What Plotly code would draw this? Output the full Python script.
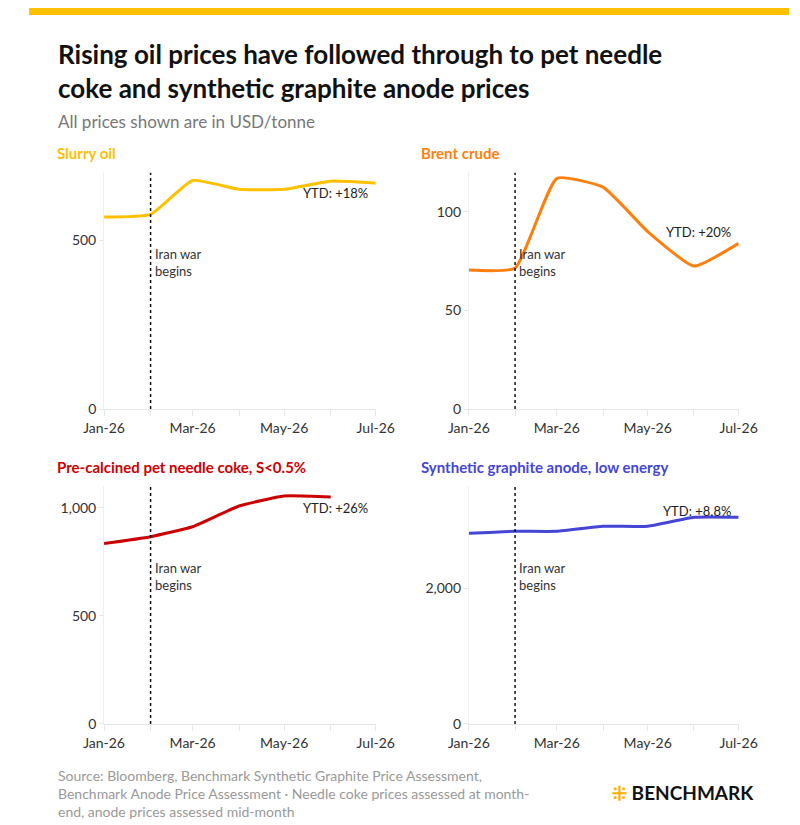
import plotly.graph_objects as go

months = ["2026-01-01","2026-02-01","2026-03-01","2026-04-01","2026-05-01","2026-06-01","2026-07-01"]
tick_labels = ["Jan-26","","Mar-26","","May-26","","Jul-26"]
slurry = [568, 576, 676, 650, 650, 674, 668]
brent = [70.5, 71.5, 117, 112.5, 90, 72.5, 84]
needle = [835, 867, 913, 1009, 1055, 1050]
anode = [2809, 2838, 2838, 2912, 2912, 3044, 3044]
war_date = "2026-02-01"

panels = [
    ("Slurry oil", "#FFC000", months, slurry, [0, 700], [0, 500], ["0", "500"], "YTD: +18%", 640),
    ("Brent crude", "#FF7F0E", months, brent, [0, 120], [0, 50, 100], ["0", "50", "100"], "YTD: +20%", 90),
    ("Pre-calcined pet needle coke, S<0.5%", "#CC0000", months[:6], needle, [0, 1100], [0, 500, 1000], ["0", "500", "1,000"], "YTD: +26%", 1000),
    ("Synthetic graphite anode, low energy", "#4545D6", months, anode, [0, 3500], [0, 2000], ["0", "2,000"], "YTD: +8.8%", 3140),
]
xd = [[79/800, 365/800], [463/800, 747/800]]
yd = [[1-405/825, 1-166/825], [1-723/825, 1-483/825]]

fig = go.Figure()
font = "Lato"
for i, (name, col, xs, ys, yr, tv, tt, ytd, ytdy) in enumerate(panels):
    r, c = divmod(i, 2)
    n = "" if i == 0 else str(i + 1)
    fig.add_trace(go.Scatter(x=xs, y=ys, mode="lines", line=dict(color=col, width=3, shape="spline", smoothing=0.45),
                             xaxis="x" + n, yaxis="y" + n, showlegend=False, hoverinfo="skip"))
    fig.add_trace(go.Scatter(x=[war_date, war_date], y=yr, mode="lines", line=dict(color="#111", width=1.5, dash="dot"),
                             xaxis="x" + n, yaxis="y" + n, showlegend=False, hoverinfo="skip"))
    fig.update_layout({
        "xaxis" + n: dict(domain=xd[c], anchor="y" + n, range=["2026-01-01", "2026-07-01"], tickvals=months,
                          ticktext=tick_labels, ticks="outside", ticklen=6, tickcolor="#e6e6e6", showgrid=False,
                          showline=True, linecolor="#e6e6e6", tickfont=dict(size=14, color="#333", family=font)),
        "yaxis" + n: dict(domain=yd[r], anchor="x" + n, range=yr, tickvals=tv, ticktext=tt, showgrid=False,
                          showline=True, linecolor="#eeeeee", ticks="outside", ticklen=4, tickcolor="#e6e6e6",
                          zeroline=False, tickfont=dict(size=14, color="#333", family=font)),
    })
    xr = "x" + n
    yrf = "y" + n
    fig.add_annotation(x=war_date, y=yr[1]*0.62, xref=xr, yref=yrf, text="Iran war<br>begins", showarrow=False,
                       xanchor="left", xshift=2, align="left", font=dict(size=13, color="#333", family=font))
    fig.add_annotation(x="2026-07-01", y=ytdy, xref=xr, yref=yrf, text=ytd, showarrow=False, xanchor="right",
                       xshift=-6, font=dict(size=13, color="#222", family=font))
    fig.add_annotation(x=xd[c][0] - 52/800, y=yd[r][1] + 20/825, xref="paper", yref="paper", text="<b>" + name + "</b>",
                       showarrow=False, xanchor="left", yanchor="middle", font=dict(size=15, color=col, family=font))

fig.add_shape(type="rect", xref="paper", yref="paper", x0=0, x1=1, y0=1-7/825, y1=1, fillcolor="#FFC000", line_width=0)
fig.add_annotation(x=28/800, y=1-28/825, xref="paper", yref="paper", xanchor="left", yanchor="top", align="left",
                   showarrow=False, text="<b>Rising oil prices have followed through to pet needle<br>coke and synthetic graphite anode prices</b>",
                   font=dict(size=26, color="#111", family=font))
fig.add_annotation(x=28/800, y=1-102/825, xref="paper", yref="paper", xanchor="left", yanchor="top", showarrow=False,
                   text="All prices shown are in USD/tonne", font=dict(size=17, color="#777", family=font))
fig.add_annotation(x=28/800, y=1-764/825, xref="paper", yref="paper", xanchor="left", yanchor="top", align="left",
                   showarrow=False,
                   text="Source: Bloomberg, Benchmark Synthetic Graphite Price Assessment,<br>Benchmark Anode Price Assessment · Needle coke prices assessed at month-<br>end, anode prices assessed mid-month",
                   font=dict(size=14, color="#999", family=font))
fig.add_annotation(x=765/800, y=1-792/825, xref="paper", yref="paper", xanchor="right", yanchor="middle", showarrow=False,
                   text="<b><span style='color:#FFB000'>⁜</span> BENCHMARK</b>", font=dict(size=19, color="#111", family=font))

fig.update_layout(width=800, height=825, margin=dict(l=0, r=0, t=0, b=0), paper_bgcolor="white", plot_bgcolor="white")
fig.write_html("out.html", config={"displayModeBar": False})
